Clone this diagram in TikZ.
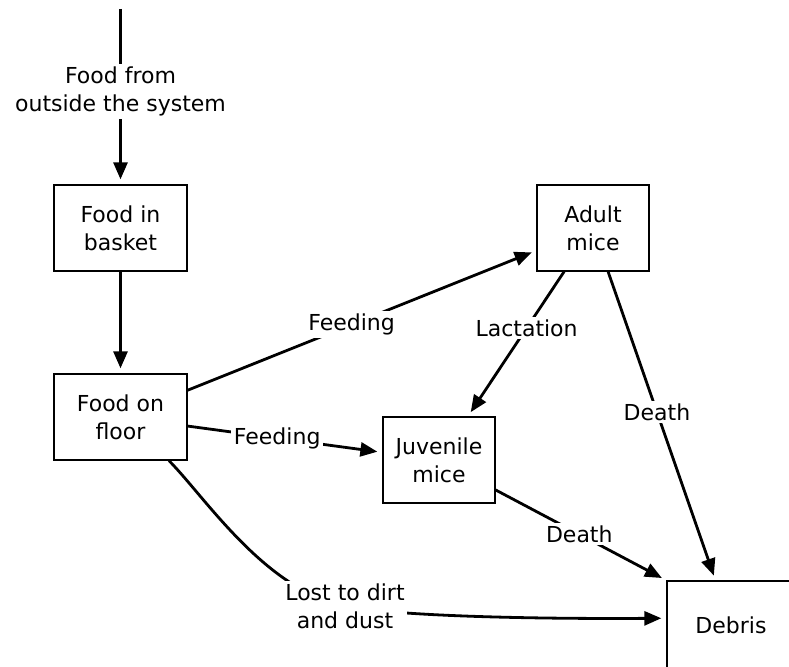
\documentclass[tikz,border=0pt]{standalone}
\usepackage{fontspec}
\setmainfont{DejaVu Sans}
\usetikzlibrary{arrows.meta}
\begin{document}
\begin{tikzpicture}[x=1pt,y=-1pt,
  box/.style={draw,line width=1.3pt,align=center,inner sep=0pt,font=\fontsize{22}{28}\selectfont},
  flow/.style={line width=2.8pt,-{Triangle[length=17pt,width=14pt]},shorten >=5pt},
  lab/.style={fill=white,inner sep=2.5pt,align=center,font=\fontsize{22}{28}\selectfont}]
\useasboundingbox (0,0) rectangle (789,666);
\clip (0,0) rectangle (789,666);
\node[box,minimum width=133pt,minimum height=86pt] (basket) at (120.5,228) {Food in\\basket};
\node[box,minimum width=133pt,minimum height=86pt] (floor) at (120.5,417) {Food on\\floor};
\node[box,minimum width=112pt,minimum height=86pt] (adult) at (593,228) {Adult\\mice};
\node[box,minimum width=112pt,minimum height=86pt] (juv) at (439,460) {Juvenile\\mice};
\node[box,minimum width=128pt,minimum height=88pt] (deb) at (731,625) {Debris};
\coordinate (src) at (120.5,9);
\draw[flow] (src) -- node[lab,pos=0.47]{Food from\\outside the system} (basket);
\draw[flow] (basket) -- (floor);
\draw[flow] (floor) -- node[lab,pos=0.47]{Feeding} (adult);
\draw[flow] (floor) -- node[lab,pos=0.46]{Feeding} (juv);
\draw[flow] (adult) -- node[lab,pos=0.39]{Lactation} (juv);
\draw[flow] (adult) -- node[lab,pos=0.455]{Death} (deb);
\draw[flow] (juv) -- node[lab,pos=0.49]{Death} (deb.north west);
\draw[flow] (floor.-42) .. controls (205,497) and (265,590) .. (345,606)
  node[lab]{Lost to dirt\\and dust}
  .. controls (400,617) and (550,619) .. (deb.174);
\end{tikzpicture}
\end{document}
